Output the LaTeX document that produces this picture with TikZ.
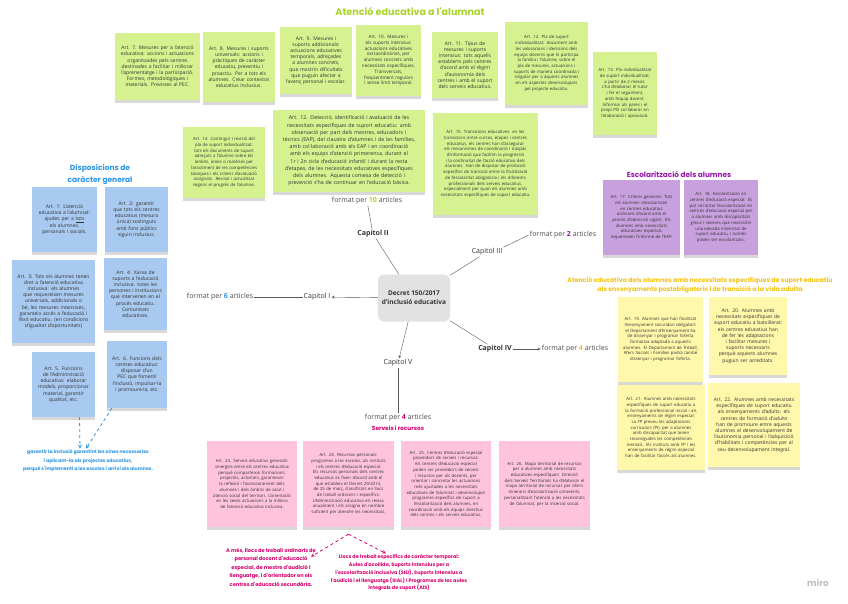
\documentclass[tikz,border=0pt]{standalone}
\usepackage{fontspec}
\setmainfont{Open Sans}
\newfontfamily\titleFont{Poppins}
\usetikzlibrary{positioning,shadows}
\hyphenpenalty=10000
\exhyphenpenalty=10000
\definecolor{greenNoteColor}{RGB}{214,241,143}
\definecolor{greenTitleColor}{RGB}{170,212,40}
\definecolor{blueNoteColor}{RGB}{168,201,240}
\definecolor{blueTitleColor}{RGB}{45,150,230}
\definecolor{purpleNoteColor}{RGB}{200,160,222}
\definecolor{purpleTitleColor}{RGB}{150,20,170}
\definecolor{yellowNoteColor}{RGB}{255,248,170}
\definecolor{yellowTitleColor}{RGB}{245,195,20}
\definecolor{pinkNoteColor}{RGB}{255,196,220}
\definecolor{pinkTitleColor}{RGB}{215,0,110}
\definecolor{noteTextColor}{RGB}{50,50,50}
\definecolor{hubColor}{RGB}{226,226,226}
\tikzstyle{board} = [x=1pt, y=-1pt, >=stealth]
\tikzstyle{noteStyle} = [align=center, inner xsep=5pt, inner ysep=2pt, text=noteTextColor, font=\fontsize{5}{6.2}\selectfont, drop shadow={shadow xshift=0pt, shadow yshift=-3pt, opacity=.3}]
\tikzstyle{greenNote} = [noteStyle, fill=greenNoteColor]
\tikzstyle{blueNote} = [noteStyle, fill=blueNoteColor]
\tikzstyle{purpleNote} = [noteStyle, fill=purpleNoteColor]
\tikzstyle{yellowNote} = [noteStyle, fill=yellowNoteColor]
\tikzstyle{pinkNote} = [noteStyle, fill=pinkNoteColor]
\tikzstyle{smallText} = [font=\fontsize{4.3}{5.7}\selectfont]
\tikzstyle{titleStyle} = [align=center, inner sep=1pt]
\tikzstyle{hubStyle} = [fill=hubColor, rounded corners=6pt, minimum width=72pt, minimum height=47pt, align=center, font=\fontsize{6.5}{9}\selectfont\bfseries, text=black!80]
\tikzstyle{chapterStyle} = [font=\fontsize{7}{8}\selectfont, text=black!80, inner sep=1pt]
\tikzstyle{formatStyle} = [font=\fontsize{7}{8}\selectfont, text=black!70, inner sep=1pt]
\tikzstyle{linkStyle} = [draw=black!65, thin]
\tikzstyle{blueDash} = [draw=blueTitleColor, dashed, thick, ->]
\tikzstyle{pinkDash} = [draw=pinkTitleColor, dashed, thick, ->]
\newcommand{\stickyNote}[6]{\node [#1, text width=#4pt, minimum height=#5pt] (#2) at (#3) {#6};}
\newcommand{\formatText}[2]{format per \textcolor{#1}{\bfseries #2} articles}

\begin{document}
\begin{tikzpicture}[board]
  \useasboundingbox [fill=white] (0,0) rectangle (848,603);

  \node [titleStyle, text=greenTitleColor, font=\titleFont\bfseries\fontsize{9.6}{11}\selectfont] (greenTitle) at (410,12) {Atenció educativa a l'alumnat};
  \stickyNote{greenNote}{art7}{157.5,66.5}{75}{67}{Art. 7. Mesures per a l'atenció educativa: accions i actuacions organitzades pels centres destinades a facilitar i millorar l'aprenentatge i la participació. Formes, metodològiques i materials. Previstes al PEC.}
  \stickyNote{greenNote}{art8}{239,67}{62}{70}{Art. 8. Mesures i suports universals: accions i pràctiques de caràcter educatiu, preventiu i proactiu. Per a tots els alumnes. Crear contextos educatius inclusius.}
  \stickyNote{greenNote}{art9}{316,60.5}{62}{67}{Art. 9. Mesures i suports addicionals: actuacions educatives temporals, adreçades a alumnes concrets, que mostrin dificultats que puguin afectar a l'avenç personal i escolar.}
  \stickyNote{greenNote, font=\fontsize{4.6}{5.8}\selectfont}{art10}{388.5,60.5}{55}{71}{Art. 10. Mesures i els suports intensius: actuacions educatives extraordinàries, per alumnes concrets amb necessitats específiques. Transversals, freqüentment regulars i sense límit temporal.}
  \stickyNote{greenNote}{art11}{465,65}{56}{66}{Art. 11. Tipus de mesures i suports intensius: tots aquells establerts pels centres d'acord amb el règim d'autonomia dels centres i amb el suport dels serveis educatius.}
  \stickyNote{greenNote, smallText}{art12}{546.5,63.5}{73}{83}{Art. 12. Pla de suport individualitzat: document amb les valoracions i decisions dels equips docents que hi participa la família i l'alumne, sobre el pla de mesures, actuacions i suports de manera coordinada i singular per a aquests alumnes en els aspectes desenvolupats pel projecte educatiu.}
  \stickyNote{greenNote, smallText}{art13}{625,93.5}{54}{83}{Art. 13. Pla individualitzat de suport individualitzat: a partir de 2 mesos. L'ha d'elaborar el tutor i fer el seguiment, amb l'equip docent. Informar als pares i el propi PSI col·laborar en l'elaboració i aprovació.}
  \stickyNote{greenNote, smallText}{art14}{224,162.5}{72}{71}{Art. 14. Contingut i revisió del pla de suport individualitzat: tots els documents de suport adreçats a l'alumne sobre els àmbits, àrees o matèries per l'assoliment de les competències bàsiques i els criteris d'avaluació assignats. Revisat i actualitzat segons el progrés de l'alumne.}
  \stickyNote{greenNote, font=\fontsize{5.3}{7.2}\selectfont}{art12b}{349,151}{142}{82}{Art. 12. Detecció, identificació i avaluació de les necessitats específiques de suport educatiu: amb observació per part dels mestres, educadors i tècnics (EAP), del claustre d'alumnes i de les famílies, amb col·laboració amb els EAP i en coordinació amb els equips d'atenció primerenca, durant el 1r i 2n cicle d'educació infantil i durant la resta d'etapes, de les necessitats educatives específiques dels alumnes. Aquesta comesa de detecció i prevenció s'ha de continuar en l'educació bàsica.}
  \stickyNote{greenNote, smallText}{art15}{485.5,164}{95}{102}{Art. 15. Transicions educatives: en les transicions entre cursos, etapes i centres educatius, els centres han d'assegurar els mecanismes de coordinació i traspàs d'informació que facilitin la progressió i la continuïtat de l'acció educativa dels alumnes. Han de disposar de protocols específics de transició entre la finalització de l'escolaritat obligatòria i els diferents professionals dels serveis educatius, especialment per quan els alumnes amb necessitats específiques de suport educatiu.}

  \node [titleStyle, text=blueTitleColor, font=\titleFont\bfseries\fontsize{7.5}{12}\selectfont] (blueTitle) at (100,175) {Disposicions de\\caràcter general};
  \stickyNote{blueNote}{art1}{64.5,219.5}{55}{65}{Art. 1: L'atenció educativa a l'alumnat: ajudes per a \underline{tots} els alumnes, personals i socials.}
  \stickyNote{blueNote}{art2}{136.5,219.5}{53}{65}{Art. 2: garantir que tots els centres educatius (mesura única) sostinguts amb fons públics siguin inclusius.}
  \stickyNote{blueNote}{art3}{53.5,301.5}{73}{83}{Art. 3: Tots els alumnes tenen dret a l'atenció educativa inclusiva: els alumnes que requereixen mesures universals, addicionals o bé, les mesures intensives, garanteix accés a l'educació i l'èxit educatiu. (en condicions d'igualtat d'oportunitats)}
  \stickyNote{blueNote}{art4}{135.5,294}{53}{72}{Art. 4. Xarxa de suports a l'educació inclusiva: totes les persones i institucions que intervenen en el procés educatiu. Comunitats educatives.}
  \stickyNote{blueNote}{art5}{63.5,384.5}{53}{65}{Art. 5. Funcions de l'Administració educativa: elaborar models, proporcionar material, garantir qualitat, etc.}
  \stickyNote{blueNote}{art6}{137,374.5}{50}{67}{Art. 6. Funcions dels centres educatius: disposar d'un PEC que fomenti l'inclusió, impulsar-la i promoure-la, etc.}
  \node [titleStyle, text=blueTitleColor, font=\titleFont\bfseries\fontsize{4.7}{8.6}\selectfont] (guarantee) at (88,461) {garantir la inclusió garantint les eines necessaries\\i aplicant-la als projectes educatius,\\perquè s'implementi a les escoles i arrivi als alumnes.};
  \draw [blueDash] ([xshift=16pt]art5.south) -- ([xshift=-8pt]guarantee.north);
  \draw [blueDash] ([xshift=5pt]art6.south west) -- ([xshift=-2pt]guarantee.north);

  \node [titleStyle, text=purpleTitleColor, font=\titleFont\bfseries\fontsize{7.3}{9}\selectfont] (purpleTitle) at (679,174) {Escolarització dels alumnes};
  \stickyNote{purpleNote, smallText}{art17}{641.5,217.5}{67}{75}{Art. 17. Criteris generals: Tots els alumnes s'escolaritzen en centres educatius ordinaris d'acord amb el procés d'admissió vigent. Els alumnes amb necessitats educatives especials requereixen l'informe de l'EAP.}
  \stickyNote{purpleNote, smallText}{art18}{721,217.5}{64}{75}{Art. 18. Escolarització en centres d'educació especial: Es pot sol·licitar l'escolarització en centres d'educació especial per a alumnes amb discapacitats greus i severes que necessitin una elevada intensitat de suport educatiu, i només poden ser escolaritzats.}

  \node [titleStyle, text=yellowTitleColor, font=\titleFont\bfseries\fontsize{6.3}{9.5}\selectfont] (yellowTitle) at (700,285) {Atenció educativa dels alumnes amb necessitats específiques de suport educatiu\\als ensenyaments postobligatoris i de transició a la vida adulta};
  \stickyNote{yellowNote, smallText}{art19}{660.5,339.5}{75}{85}{Art. 19. Alumnes que han finalitzat l'ensenyament secundari obligatori: el Departament d'Ensenyament ha de dissenyar i programar l'oferta formativa adaptada a aquests alumnes. El Departament de Treball, Afers Socials i Famílies podrà també dissenyar i programar l'oferta.}
  \stickyNote{yellowNote}{art20}{748,336}{68}{78}{Art. 20. Alumnes amb necessitats específiques de suport educatiu a batxillerat: els centres educatius han de fer les adaptacions i facilitar mesures i suports necessaris perquè aquests alumnes puguin ser acreditats.}
  \stickyNote{yellowNote, smallText}{art21}{661,427.5}{78}{85}{Art. 21. Alumnes amb necessitats específiques de suport educatiu a la formació professional inicial i als ensenyaments de règim especial: La FP preveu les adaptacions curriculars (PI), per a alumnes amb discapacitat que tenen reconegudes les competències mentals. Els instituts amb FP i els ensenyaments de règim especial han de facilitar l'accés als alumnes.}
  \stickyNote{yellowNote}{art22}{754,425}{82}{84}{Art. 22. Alumnes amb necessitats específiques de suport educatiu als ensenyaments d'adults: els centres de formació d'adults han de promoure entre aquests alumnes el desenvolupament de l'autonomia personal i l'adquisició d'habilitats i competències per al seu desenvolupament integral.}

  \node [titleStyle, text=pinkTitleColor, font=\titleFont\bfseries\fontsize{5.8}{8}\selectfont] (pinkTitle) at (398,428) {Serveis i recursos};
  \stickyNote{pinkNote, smallText}{art23}{252,484}{80}{86}{Art. 23. Serveis educatius generals: sinergies entre els centres educatius perquè comparteixin formacions, projectes, activitats, garanteixin la reflexió i l'assessorament dels alumnes i dels àmbits de salut i atenció social del territori. L'orientació en les seves actuacions a la millora de l'atenció educativa inclusiva.}
  \stickyNote{pinkNote, smallText}{art24}{348.5,484}{81}{86}{Art. 24. Recursos personals: programes a les escoles, als instituts i els centres d'educació especial. Els recursos personals dels centres educatius es fixen d'acord amb el que estableix el Decret 29/2014, de 25 de març, classificats en llocs de treball ordinaris i específics. L'Administració educativa els revisa anualment i els assigna en nombre suficient per atendre les necessitats.}
  \stickyNote{pinkNote, smallText}{art25}{446,484}{80}{86}{Art. 25. Centres d'educació especial proveïdors de serveis i recursos: els centres d'educació especial poden ser proveïdors de serveis i recursos per als docents, per orientar i concretar les actuacions més ajustades a les necessitats educatives de l'alumnat i desenvolupar programes específics de suport a l'escolarització dels alumnes, en coordinació amb els equips directius dels centres i els serveis educatius.}
  \stickyNote{pinkNote, smallText}{art26}{544.5,484}{81}{86}{Art. 26. Mapa territorial de recursos per a alumnes amb necessitats educatives específiques: Direcció dels Serveis Territorials ha d'elaborar el mapa territorial de recursos per oferir itineraris d'escolarització coherents, personalitzant l'atenció a les necessitats de l'alumnat, per la inserció social.}
  \node [titleStyle, text=pinkTitleColor, font=\titleFont\bfseries\fontsize{5.1}{8.5}\selectfont] (ordinaryPosts) at (271,567) {A més, llocs de treball ordinaris de\\personal docent d'educació\\especial, de mestre d'audició i\\llenguatge, i d'orientador en els\\centres d'educació secundària.};
  \node [titleStyle, text=pinkTitleColor, font=\titleFont\bfseries\fontsize{4.9}{7.8}\selectfont] (specificPosts) at (399,573) {Llocs de treball específics de caràcter temporal:\\Aules d'acollida, Suports intensius per a\\l'escolarització inclusiva (SIEI), Suports intensius a\\l'audició i el llenguatge (SIAL) i Programes de les aules\\integrals de suport (AIS)};
  \draw [pinkDash] ([yshift=-7pt]art24.south) -- ([xshift=-6pt, yshift=-10pt]ordinaryPosts.north east);
  \draw [pinkDash] ([yshift=-7pt]art24.south) -- ([xshift=-13pt]specificPosts.north);

  \node [hubStyle] (decret) at (414,298) {Decret 150/2017\\d'inclusió educativa};
  \node [chapterStyle] (cap1) at (317,297) {Capitol I};
  \node [chapterStyle, font=\fontsize{7}{8}\selectfont\bfseries] (cap2) at (373,234) {Capitol II};
  \node [chapterStyle] (cap3) at (487,252) {Capitol III};
  \node [chapterStyle, font=\fontsize{7}{8}\selectfont\bfseries] (cap4) at (495,349) {Capitol IV};
  \node [chapterStyle] (cap5) at (398,363) {Capitol V};
  \node [formatStyle] (fmt10) at (367,201) {\formatText{greenTitleColor}{10}};
  \node [formatStyle] (fmt2) at (563,235) {\formatText{purpleTitleColor}{2}};
  \node [formatStyle] (fmt6) at (220,297) {\formatText{blueTitleColor}{6}};
  \node [formatStyle] (fmt4a) at (575,349) {\formatText{yellowTitleColor}{4}};
  \node [formatStyle] (fmt4b) at (398,418) {\formatText{pinkTitleColor}{4}};
  \draw [linkStyle] (decret) -- (cap2);
  \draw [linkStyle] (cap2) -- (fmt10);
  \draw [linkStyle] (decret) -- (cap3);
  \draw [linkStyle] (cap3.north east) -- (fmt2.west);
  \draw [linkStyle, ->] (decret) -- (cap1);
  \draw [linkStyle] (cap1) -- (fmt6);
  \draw [linkStyle] (decret) -- (cap4);
  \draw [linkStyle, ->] (cap4) -- (fmt4a);
  \draw [linkStyle, ->] (decret) -- (cap5);
  \draw [linkStyle] (cap5) -- (fmt4b);

  \node [text=black!25, font=\titleFont\bfseries\fontsize{9}{10}\selectfont] (miroMark) at (818,583) {miro};
\end{tikzpicture}
\end{document}
